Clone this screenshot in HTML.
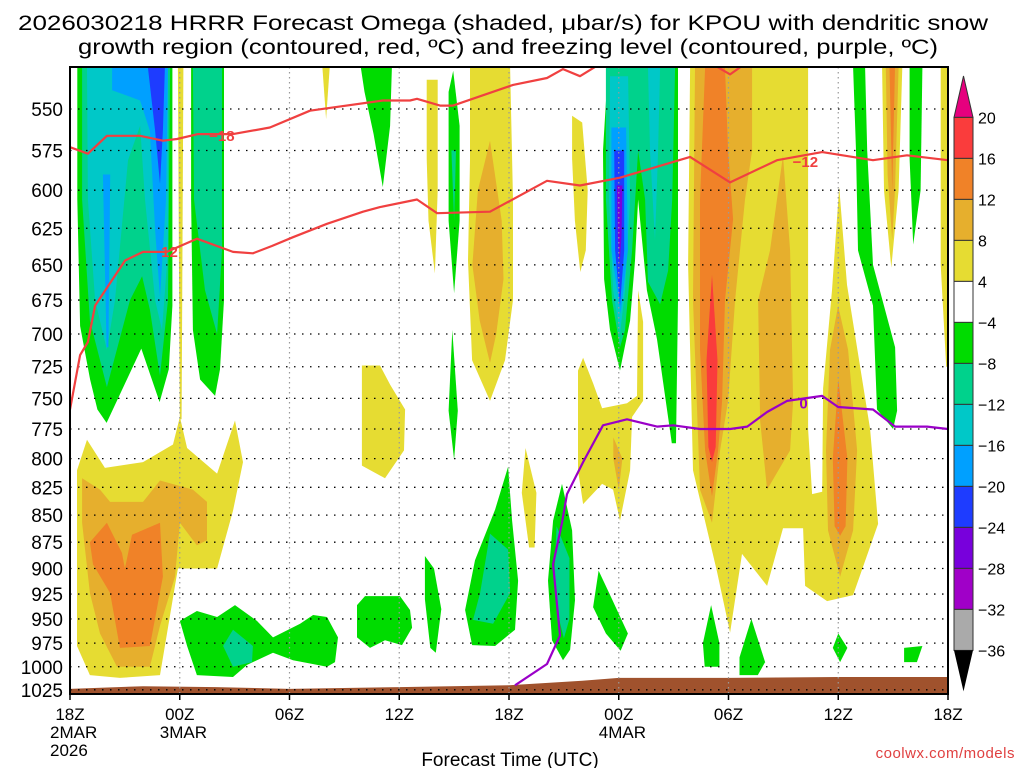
<!DOCTYPE html>
<html><head><meta charset="utf-8"><style>
html,body{margin:0;padding:0;background:#fff;}
svg{display:block;font-family:"Liberation Sans",sans-serif;}
</style></head><body>
<svg id="chart" width="1024" height="768" viewBox="0 0 1024 768" xmlns="http://www.w3.org/2000/svg">
<text x="18" y="30" font-size="21" textLength="970" lengthAdjust="spacingAndGlyphs">2026030218 HRRR Forecast Omega (shaded, μbar/s) for KPOU with dendritic snow</text>
<text x="78" y="54" font-size="21" textLength="860" lengthAdjust="spacingAndGlyphs">growth region (contoured, red, ºC) and freezing level (contoured, purple, ºC)</text>
<defs><clipPath id="plotclip"><rect x="70" y="67" width="878" height="627"/></clipPath></defs>
<g id="shading" clip-path="url(#plotclip)"></g>
<g id="terrain" clip-path="url(#plotclip)"></g>
<g id="grid"></g>
<g id="contours" clip-path="url(#plotclip)"></g>
<rect x="70" y="67" width="878" height="627" fill="none" stroke="#000" stroke-width="2"/>
<g id="yaxis"></g>
<g id="xaxis"></g>
<text x="510" y="766" font-size="19" text-anchor="middle">Forecast Time (UTC)</text>
<text x="1015" y="758" font-size="15" text-anchor="end" fill="#e04040" letter-spacing="0.5">coolwx.com/models</text>
<g id="colorbar"></g>
</svg>
<script>
const NS="http://www.w3.org/2000/svg";
const pressureTicks=[550,575,600,625,650,675,700,725,750,775,800,825,850,875,900,925,950,975,1000,1025];
const timeTicks=[0,6,12,18,24,30,36,42,48];
const timeLabels=["18Z","00Z","06Z","12Z","18Z","00Z","06Z","12Z","18Z"];
const dateLabels=["2MAR","3MAR","","","","4MAR","","",""];
const cbLevels=[20,16,12,8,4,-4,-8,-12,-16,-20,-24,-28,-32,-36];
const cbColors=["#fa3c3c","#f08228","#e6af2d","#e6dc32","#ffffff","#00dc00","#00d28c","#00c8c8","#00a0ff","#1e3cff","#7800dc","#a000c8","#aaaaaa"];
const terrainHours=[0,4,8,12,18,24,28,30,36,42,48];
const terrainP=[1024,1021,1022,1024,1022,1020,1015,1012,1012,1011,1011];
const line18=[[0,573],[0.98,577],[2.02,566],[3.83,566],[5.08,569],[5.85,568],[7.0,565],[8.91,565],[10.93,561],[13.12,551],[17.11,545],[18.59,545],[18.97,544],[20.23,548],[20.94,548],[24.22,536],[26.08,532],[26.95,527],[27.88,531],[28.98,524]];
const line18b=[[35.1,524],[36.09,530],[36.9,524]];
const line12=[[0,759],[0.55,716],[0.98,706],[1.37,679],[3.01,647],[3.99,641],[5.3,641],[6.94,632],[8.91,641],[10.0,642],[11.04,637],[12.19,631],[14.05,622],[16.02,614],[16.95,611],[18.97,606],[20.07,615],[22.96,614],[26.08,594],[27.88,597],[30.07,592],[33.9,579],[36.09,595],[38.65,581],[41.12,576],[43.9,581],[45.76,578],[48.0,581]];
const line0=[[24.33,1020],[26.08,997],[26.79,967],[26.41,896],[26.9,857],[27.17,831],[28.05,803],[29.14,772],[30.45,767],[32.09,773],[32.97,772],[34.44,775],[36.09,775],[37.02,773],[38.11,761],[39.2,752],[41.12,748],[41.99,757],[43.9,759],[45.11,773],[46.86,773],[48.0,775]];
const labels=[{t:"−18",h:8.3,p:566,c:"#f04040"},{t:"−12",h:5.2,p:641,c:"#f04040"},{t:"−12",h:40.2,p:582,c:"#f04040"},{t:"0",h:40.1,p:754,c:"#9a00c8"}];
const shapes=[
{lv:-6,pts:[[0.4,526],[5.6,526],[5.6,679],[5.4,727],[4.9,753],[3.9,711],[2.0,770],[1.5,759],[1.1,735],[0.55,694],[0.4,606]]},
{lv:-6,pts:[[6.62,526],[8.42,526],[8.42,675],[8.2,727],[7.93,748],[7.11,735],[6.72,697],[6.62,606]]},
{lv:-6,pts:[[15.9,526],[17.6,526],[17.5,560],[17.1,598],[16.6,565],[16.1,540]]},
{lv:-6,pts:[[6.01,952],[6.94,942],[8.04,948],[9.02,936],[10.22,952],[11.1,969],[12.58,955],[13.29,946],[14.05,948],[14.65,969],[14.49,995],[14.05,1000],[12.19,993],[11.1,985],[9.68,998],[8.91,1011],[6.94,1009],[6.4,978]]},
{lv:-6,pts:[[15.69,936],[16.13,927],[18.04,927],[18.59,941],[18.7,959],[18.15,977],[17.22,972],[16.4,980],[15.69,969]]},
{lv:-6,pts:[[20.7,540],[20.95,528],[21.3,560],[21.3,620],[21.0,670],[20.7,620]]},
{lv:-6,pts:[[20.9,697],[21.2,760],[21.0,801],[20.7,760]]},
{lv:-6,pts:[[19.4,888],[19.9,900],[20.3,940],[20.0,985],[19.7,980],[19.4,930]]},
{lv:-6,pts:[[23.95,807],[24.17,855],[24.5,912],[24.33,961],[23.24,978],[21.98,977],[21.6,941],[22.14,892],[23.24,845]]},
{lv:-6,pts:[[26.9,822],[27.45,864],[27.61,931],[27.34,982],[26.95,993],[26.35,972],[26.13,912],[26.41,855]]},
{lv:-6,pts:[[29.41,526],[33.24,526],[33.24,675],[33.13,787],[32.9,787],[32.09,704],[31.54,668],[31.06,606],[30.89,647],[30.62,690],[30.07,728],[29.52,697],[29.2,660],[29.14,575]]},
{lv:-6,pts:[[28.9,902],[29.5,925],[30.5,965],[30.1,983],[29.3,965],[28.6,938]]},
{lv:-6,pts:[[35.05,936],[35.5,975],[35.5,1000],[34.7,1000],[34.6,975]]},
{lv:-6,pts:[[37.25,950],[38.0,995],[37.6,1009],[36.6,1009],[36.6,990]]},
{lv:-6,pts:[[42.0,965],[42.5,980],[42.1,995],[41.7,980]]},
{lv:-6,pts:[[45.6,980],[46.6,978],[46.3,995],[45.6,995]]},
{lv:-6,pts:[[42.81,526],[43.47,526],[43.58,575],[43.9,650],[45.11,710],[45.22,760],[45.0,775],[44.12,759],[43.9,679],[43.08,640],[42.97,575]]},
{lv:-6,pts:[[45.9,526],[46.6,526],[46.5,600],[46.1,636],[45.9,580]]},
{lv:-10,pts:[[0.66,526],[5.47,526],[5.36,675],[4.92,732],[4.37,682],[3.94,658],[3.28,675],[2.02,741],[1.09,690],[0.66,606]]},
{lv:-10,pts:[[6.72,526],[8.31,526],[8.31,640],[8.04,700],[7.38,668],[6.78,606]]},
{lv:-10,pts:[[8.37,978],[8.91,961],[10.0,978],[9.95,995],[8.91,1000]]},
{lv:-10,pts:[[20.85,575],[21.1,575],[21.0,620]]},
{lv:-10,pts:[[22.96,867],[23.95,882],[24.06,924],[23.13,955],[22.03,951],[22.42,924]]},
{lv:-10,pts:[[26.6,860],[27.3,890],[27.3,950],[27.0,970],[26.6,940],[26.5,900]]},
{lv:-10,pts:[[29.3,526],[33.08,526],[32.92,606],[32.7,654],[32.26,678],[31.6,662],[31.44,606],[31.06,575],[30.73,640],[30.34,697],[30.07,710],[29.63,675],[29.3,606]]},
{lv:-14,pts:[[0.93,526],[5.36,526],[5.36,640],[5.03,697],[4.65,675],[4.1,606],[3.83,560],[3.17,581],[2.46,675],[2.02,712],[1.37,675],[0.98,606]]},
{lv:-14,pts:[[29.52,531],[30.51,531],[30.62,606],[30.34,668],[30.07,700],[29.69,668],[29.47,606]]},
{lv:-14,pts:[[31.6,526],[32.26,526],[32.15,575],[31.98,633],[31.71,575]]},
{lv:-18,pts:[[2.3,526],[5.36,526],[5.25,606],[4.92,673],[4.65,626],[4.37,563],[3.83,545],[2.3,539]]},
{lv:-18,pts:[[1.8,590],[2.2,590],[2.1,710],[2.0,710]]},
{lv:-18,pts:[[29.6,561],[30.4,561],[30.5,640],[30.1,685],[29.6,640]]},
{lv:-22,pts:[[4.26,526],[5.19,526],[5.08,563],[4.92,596],[4.65,563]]},
{lv:-22,pts:[[29.75,575],[30.3,575],[30.3,640],[30.07,679],[29.8,640]]},
{lv:-26,pts:[[29.9,597],[30.2,597],[30.15,630],[30.05,650],[29.95,630]]},
{lv:6,pts:[[5.9,526],[6.2,526],[6.1,767],[6.0,767]]},
{lv:6,pts:[[13.8,526],[14.2,526],[14.0,556]]},
{lv:6,pts:[[0.93,784],[1.91,808],[3.99,803],[5.63,788],[6.01,765],[6.4,791],[8.04,813],[9.02,768],[9.46,803],[8.91,846],[8.04,900],[5.9,900],[4.92,1009],[2.73,1012],[1.09,1009],[0.38,978],[0.38,810]]},
{lv:6,pts:[[15.96,724],[16.95,724],[17.5,739],[18.32,759],[18.26,793],[17.22,817],[15.96,806]]},
{lv:6,pts:[[19.5,533],[20.1,533],[20.1,600],[19.95,656],[19.6,620],[19.5,580]]},
{lv:6,pts:[[21.87,526],[24.06,526],[24.22,606],[24.22,675],[23.78,720],[22.96,752],[21.98,720],[21.76,647],[21.87,581]]},
{lv:6,pts:[[24.9,791],[25.5,830],[25.4,880],[25.1,880],[24.7,830]]},
{lv:6,pts:[[27.45,554],[28.0,558],[28.3,600],[28.2,640],[27.9,655],[27.6,620],[27.45,580]]},
{lv:6,pts:[[27.77,728],[28.05,718],[28.6,738],[29.09,758],[30.45,754],[31.0,748],[31.06,668],[31.33,691],[31.33,752],[30.73,765],[30.62,810],[30.07,855],[29.69,827],[29.09,822],[28.05,840],[27.77,810]]},
{lv:6,pts:[[33.9,526],[40.35,526],[40.35,775],[40.57,831],[41.12,829],[41.17,742],[41.66,668],[42.05,598],[42.48,664],[43.74,775],[44.18,858],[42.81,926],[41.39,932],[40.19,917],[40.08,862],[38.98,862],[38.11,917],[36.74,886],[36.09,964],[35.37,903],[34.06,810],[33.79,650]]},
{lv:6,pts:[[44.4,526],[45.5,526],[45.3,600],[44.9,652],[44.5,600]]},
{lv:6,pts:[[47.6,526],[48.1,526],[48.1,725],[47.9,725],[47.6,650]]},
{lv:10,pts:[[0.66,817],[1.64,827],[2.19,838],[3.99,838],[4.92,819],[6.72,827],[7.49,838],[7.49,873],[6.94,878],[6.01,857],[5.74,908],[4.92,957],[4.37,1000],[2.57,1000],[1.64,965],[1.09,924],[0.66,857]]},
{lv:10,pts:[[22.96,569],[23.6,620],[23.7,660],[23.3,700],[22.96,722],[22.4,690],[22.0,650],[22.3,600]]},
{lv:10,pts:[[29.7,782],[30.2,800],[30.0,827],[29.7,800]]},
{lv:10,pts:[[34.17,526],[37.29,526],[37.29,575],[36.9,606],[36.36,675],[35.98,752],[35.54,793],[35.1,857],[34.44,827],[34.06,675]]},
{lv:10,pts:[[38.98,578],[39.37,640],[39.53,752],[39.37,793],[38.11,827],[37.73,768],[37.62,675],[38.27,640]]},
{lv:10,pts:[[41.99,679],[42.54,712],[43.03,793],[42.81,864],[42.1,908],[41.44,864],[41.33,793],[41.55,712]]},
{lv:10,pts:[[44.6,526],[45.3,526],[45.1,600],[44.95,633],[44.7,590]]},
{lv:14,pts:[[1.09,875],[2.02,857],[2.84,885],[3.0,900],[3.39,868],[4.92,857],[5.08,908],[4.37,978],[2.73,980],[2.19,924],[1.26,896]]},
{lv:14,pts:[[34.72,526],[35.81,526],[35.98,575],[36.25,619],[35.81,675],[35.65,752],[35.43,793],[35.1,833],[34.72,793],[34.44,712],[34.44,606]]},
{lv:14,pts:[[42.0,735],[42.5,800],[42.4,860],[42.1,869],[41.8,860],[41.7,800]]},
{lv:14,pts:[[44.8,526],[45.1,526],[44.95,600]]},
{lv:18,pts:[[35.1,657],[35.4,720],[35.3,790],[35.1,803],[34.9,790],[34.8,720]]}
];
const X0=70,X1=948,Y0=67,Y1=694;
function xOf(h){return X0+h*(X1-X0)/48;}
function yOf(p){return 109+933*Math.log(p/550);}
function colorOf(v){for(let i=0;i<cbLevels.length-1;i++){if(v<=cbLevels[i]&&v>cbLevels[i+1])return cbColors[i];}return v>20?"#e6007e":"#000";}
function mk(tag,attrs,parent){const e=document.createElementNS(NS,tag);for(const k in attrs)e.setAttribute(k,attrs[k]);parent.appendChild(e);return e;}
const gS=document.getElementById("shading");
shapes.forEach(s=>{
 const d="M"+s.pts.map(q=>xOf(q[0]).toFixed(1)+","+yOf(q[1]).toFixed(1)).join("L")+"Z";
 const e=mk("path",{d:d,fill:colorOf(s.lv)},gS);
 
 
});
const gT=document.getElementById("terrain");
{let d="M"+xOf(terrainHours[0])+","+(Y1+2);terrainHours.forEach((h,i)=>{d+="L"+xOf(h).toFixed(1)+","+yOf(terrainP[i]).toFixed(1);});d+="L"+xOf(48)+","+(Y1+2)+"Z";
 const e=mk("path",{d:d,fill:"#a0522d"},gT);
 
 }
const gG=document.getElementById("grid");
pressureTicks.forEach(p=>{const y=yOf(p);
 const e=mk("line",{x1:X0,x2:X1,y1:y,y2:y,stroke:"#000","stroke-width":1.3,"stroke-dasharray":"1.5 6.5"},gG);
 
 });
timeTicks.forEach(h=>{if(h===0||h===48)return;const x=xOf(h);
 const e=mk("line",{x1:x,x2:x,y1:Y0,y2:Y1,stroke:"#999","stroke-width":1.2,"stroke-dasharray":"1.5 3.5"},gG);
 
 });
const gC=document.getElementById("contours");
function drawLine(arr,color,name){const d="M"+arr.map(q=>xOf(q[0]).toFixed(1)+","+yOf(q[1]).toFixed(1)).join("L");
 const e=mk("path",{d:d,fill:"none",stroke:color,"stroke-width":2.2,"stroke-linejoin":"round"},gC);
 
 }
drawLine(line18,"#f04040","contour-minus18");
drawLine(line18b,"#f04040","contour-minus18-b");
drawLine(line12,"#f04040","contour-minus12");
drawLine(line0,"#9a00c8","freezing-level-contour");
labels.forEach(l=>{const t=mk("text",{x:xOf(l.h),y:yOf(l.p)+5,"font-size":15,"font-weight":"bold",fill:l.c,"text-anchor":"middle"},gC);t.textContent=l.t;
 
 });
const gY=document.getElementById("yaxis");
pressureTicks.forEach(p=>{const t=mk("text",{x:63,y:yOf(p)+7,"font-size":19,"text-anchor":"end"},gY);t.textContent=p;
 
 });
const gX=document.getElementById("xaxis");
timeTicks.forEach((h,i)=>{const x=xOf(h);
 const tk=mk("line",{x1:x,x2:x,y1:Y1,y2:Y1+6,stroke:"#000","stroke-width":1.5},gX);
 
 
 const t=mk("text",{x:x,y:720,"font-size":17,"text-anchor":"middle"},gX);t.textContent=timeLabels[i];
 
 
 if(dateLabels[i]){const d=mk("text",{x:x-20,y:738,"font-size":17},gX);d.textContent=dateLabels[i];
 
 }});
{const t=mk("text",{x:50,y:756,"font-size":17},gX);t.textContent="2026";
 
 }
const gB=document.getElementById("colorbar");
const cbx=954,cbw=19,cbTop=117.4,cbStep=41;
{const e=mk("path",{d:`M${cbx},${cbTop}L${cbx+cbw/2},76L${cbx+cbw},${cbTop}Z`,fill:"#e6007e",stroke:"#333","stroke-width":1},gB);
 
 }
cbColors.forEach((c,i)=>{const e=mk("rect",{x:cbx,y:cbTop+i*cbStep,width:cbw,height:cbStep,fill:c,stroke:"#333","stroke-width":1},gB);
 
 });
{const yb=cbTop+cbColors.length*cbStep;const e=mk("path",{d:`M${cbx},${yb}L${cbx+cbw/2},${yb+41}L${cbx+cbw},${yb}Z`,fill:"#000"},gB);
 
 }
cbLevels.forEach((v,i)=>{const t=mk("text",{x:978,y:cbTop+i*cbStep+6,"font-size":16},gB);t.textContent=v<0?"−"+(-v):String(v);
 
 });
</script>
</body></html>
